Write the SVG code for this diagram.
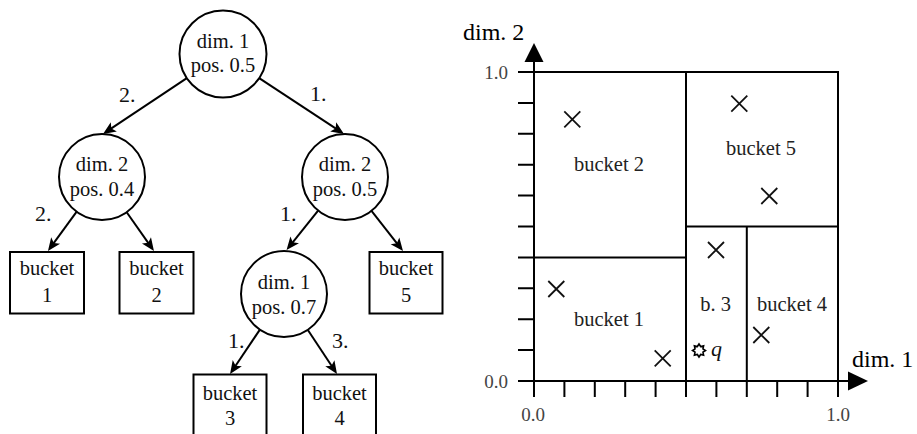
<svg xmlns="http://www.w3.org/2000/svg" width="917" height="434" viewBox="0 0 917 434">
<style>
.n{fill:#fff;stroke:#000;stroke-width:2}
.t{font-family:"Liberation Serif","Times New Roman",serif;font-size:20.5px;fill:#111;text-anchor:middle}
.el{font-family:"Liberation Serif","Times New Roman",serif;font-size:22px;fill:#111}
.e{stroke:#000;stroke-width:2;fill:none;marker-end:url(#ah)}
.g{stroke:#000;stroke-width:2;fill:none}
.x{stroke:#111;stroke-width:1.8;fill:none}
.pl{font-family:"Liberation Serif","Times New Roman",serif;font-size:20.5px;fill:#222;text-anchor:middle}
.tk{font-family:"Liberation Serif","Times New Roman",serif;font-size:19px;fill:#444}
.ax{font-family:"Liberation Serif","Times New Roman",serif;font-size:24px;fill:#000}
</style>
<defs>
<marker id="ah" markerUnits="userSpaceOnUse" viewBox="-14 -7 15 14" markerWidth="15" markerHeight="14" refX="-6" refY="0" orient="auto">
<path d="M0,0 L-13,-5.5 L-10,0 L-13,5.5 Z" fill="#000"/>
</marker>
</defs>

<g id="connectors">
<line class="e" x1="187.2" y1="77.9" x2="108" y2="130.7"/>
<line class="e" x1="258.8" y1="77.9" x2="339" y2="130.7"/>
<line class="e" x1="76.7" y1="211.7" x2="51.5" y2="246.2"/>
<line class="e" x1="126.7" y1="212.2" x2="150.5" y2="246.1"/>
<line class="e" x1="318.1" y1="210.6" x2="290.3" y2="245.3"/>
<line class="e" x1="371.5" y1="210.8" x2="399.3" y2="246.3"/>
<line class="e" x1="259.9" y1="329.6" x2="233.4" y2="369"/>
<line class="e" x1="307.7" y1="329.8" x2="333.7" y2="369"/>
<text class="el" x="119" y="102">2.</text>
<text class="el" x="310" y="101">1.</text>
<text class="el" x="35" y="221">2.</text>
<text class="el" x="280" y="221">1.</text>
<text class="el" x="228" y="348">1.</text>
<text class="el" x="332" y="348">3.</text>
</g>

<g id="root">
<circle class="n" cx="223" cy="54" r="43.5"/>
<text class="t" x="223" y="47.5">dim. 1</text>
<text class="t" x="223" y="72">pos. 0.5</text>
</g>
<g id="split-left">
<circle class="n" cx="102" cy="177" r="43"/>
<text class="t" x="102" y="170.5">dim. 2</text>
<text class="t" x="102" y="195.5">pos. 0.4</text>
</g>
<g id="split-right">
<circle class="n" cx="345" cy="177" r="43"/>
<text class="t" x="345" y="170.5">dim. 2</text>
<text class="t" x="345" y="195.5">pos. 0.5</text>
</g>
<g id="split-low">
<circle class="n" cx="284" cy="294" r="43"/>
<text class="t" x="284" y="288.5">dim. 1</text>
<text class="t" x="284" y="314">pos. 0.7</text>
</g>
<g id="bucket1">
<rect class="n" x="10" y="252" width="74" height="61.5"/>
<text class="t" x="47" y="275">bucket</text>
<text class="t" x="47" y="302">1</text>
</g>
<g id="bucket2">
<rect class="n" x="119.5" y="252" width="74" height="61.5"/>
<text class="t" x="156.5" y="275">bucket</text>
<text class="t" x="156.5" y="302">2</text>
</g>
<g id="bucket5">
<rect class="n" x="369.5" y="252" width="73" height="61.5"/>
<text class="t" x="406" y="275">bucket</text>
<text class="t" x="406" y="302">5</text>
</g>
<g id="bucket3">
<rect class="n" x="193.5" y="374.5" width="73" height="70"/>
<text class="t" x="230" y="400">bucket</text>
<text class="t" x="230" y="425">3</text>
</g>
<g id="bucket4">
<rect class="n" x="303" y="374.5" width="73" height="70"/>
<text class="t" x="339.5" y="400">bucket</text>
<text class="t" x="339.5" y="425">4</text>
</g>

<g id="plot">
<path class="g" d="M534,397 V60 M518,381 H850 M518,72 H838 V397 M686,72 V397 M518,257.5 H686 M686,226.5 H838 M746.8,226.5 V397"/>
<path class="g" d="M518,350.1 H534 M518,319.2 H534 M518,288.3 H534 M518,226.5 H534 M518,195.6 H534 M518,164.7 H534 M518,133.8 H534 M518,102.9 H534 M564.4,381 V397 M594.8,381 V397 M625.2,381 V397 M655.6,381 V397 M716.4,381 V397 M777.2,381 V397 M807.6,381 V397"/>
<polygon points="534,43 524.5,62 543.5,62" fill="#000"/>
<polygon points="868,381 848,371.5 848,390.5" fill="#000"/>
<path class="x" d="M564.3,111.3 l16,16 m0,-16 l-16,16 M731.3,95.7 l16,16 m0,-16 l-16,16 M761.3,188 l16,16 m0,-16 l-16,16 M708,242 l16,16 m0,-16 l-16,16 M548.3,281 l16,16 m0,-16 l-16,16 M654.7,350.3 l16,16 m0,-16 l-16,16 M753.3,327 l16,16 m0,-16 l-16,16"/>
<polygon points="705.5,350.5 702.97,352.15 703.6,355.1 700.65,354.47 699,357 697.35,354.47 694.4,355.1 695.03,352.15 692.5,350.5 695.03,348.85 694.4,345.9 697.35,346.53 699,344 700.65,346.53 703.6,345.9 702.97,348.85" fill="none" stroke="#000" stroke-width="1.6"/>
<text class="el" x="711" y="356" font-style="italic">q</text>
<text class="pl" x="609" y="171">bucket 2</text>
<text class="pl" x="761" y="155">bucket 5</text>
<text class="pl" x="609" y="326">bucket 1</text>
<text class="pl" x="715.5" y="311">b. 3</text>
<text class="pl" x="792" y="311">bucket 4</text>
<text class="tk" x="508" y="79" text-anchor="end">1.0</text>
<text class="tk" x="508" y="388" text-anchor="end">0.0</text>
<text class="tk" x="533" y="421" text-anchor="middle">0.0</text>
<text class="tk" x="838" y="421" text-anchor="middle">1.0</text>
<text class="ax" x="463" y="40">dim. 2</text>
<text class="ax" x="852" y="367">dim. 1</text>
</g>
</svg>
